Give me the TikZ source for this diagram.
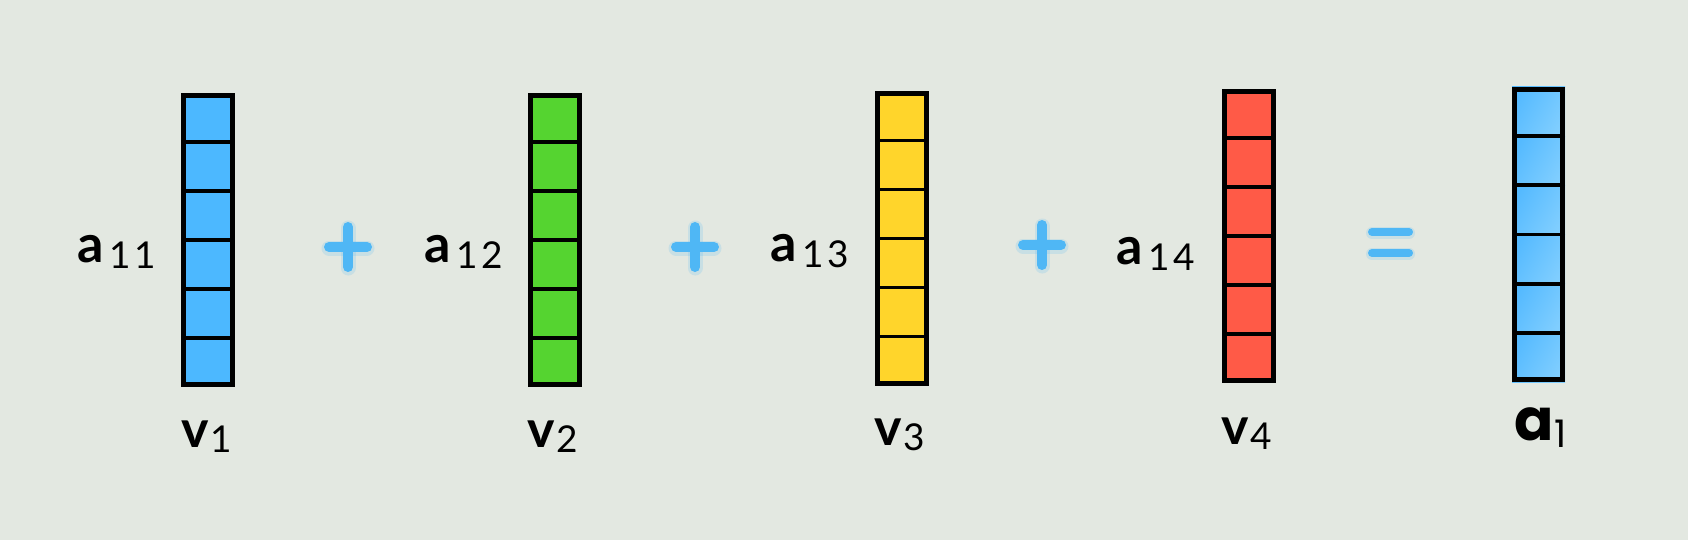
\documentclass[tikz,border=0pt]{standalone}
\usepackage{fontspec}
\setmainfont{Lato}
\newfontfamily\popfont{Poppins}
\usetikzlibrary{calc}
\definecolor{bgc}{HTML}{E3E8E1}
\definecolor{cblue}{HTML}{4CB8FF}
\definecolor{cgreen}{HTML}{55D430}
\definecolor{cyellow}{HTML}{FFD52B}
\definecolor{cred}{HTML}{FF5A47}
\definecolor{gblueA}{HTML}{55BAFF}
\definecolor{gblueB}{HTML}{80CEFF}
\definecolor{opblue}{HTML}{4FB7F5}
\begin{document}
\begin{tikzpicture}[x=1pt,y=-1pt,
  colbox/.style={draw=black, line width=5pt, inner sep=0pt, minimum width=49pt, minimum height=289pt},
  divider/.style={line width=3.8pt, draw=black},
  opsign/.style={line width=10pt, line cap=round, draw=opblue},
  opglow/.style={line width=15pt, line cap=round, draw=opblue, opacity=0.18},
  eqsign/.style={line width=8pt, line cap=round, draw=opblue},
  eqglow/.style={line width=12pt, line cap=round, draw=opblue, opacity=0.18},
  lab/.style={anchor=base west, inner sep=0pt, outer sep=0pt},
]
\fill[bgc] (0,0) rectangle (1688,540);
\useasboundingbox (0,0) rectangle (1688,540);

% columns
\node[colbox, fill=cblue] (v1) at (208,240) {};
\node[colbox, fill=cgreen] (v2) at (555,240) {};
\node[colbox, fill=cyellow] (v3) at (902,238.5) {};
\node[colbox, fill=cred] (v4) at (1249,236) {};
\node[colbox, draw=none, minimum width=48pt, minimum height=290pt] (a1) at (1538.5,234.5) {};
\foreach \k in {0,...,5}{
  \shade[left color=gblueA, right color=gblueB, shading angle=60]
    ($(a1.north west)!\k/6!(a1.south west)$) rectangle ($(a1.north east)!{(\k+1)/6}!(a1.south east)$);
}
\node[colbox, minimum width=48pt, minimum height=290pt] (a1frame) at (a1) {};

\foreach \c in {v1,v2,v3,v4,a1}{
  \foreach \k in {1,...,5}{
    \draw[divider] ($(\c.north west)!\k/6!(\c.south west)$) -- ($(\c.north east)!\k/6!(\c.south east)$);
  }
}

% coefficient labels
\node[lab] (l11) at (77,262) {{\fontsize{52}{52}\selectfont\bfseries a}\kern6pt\raisebox{-6pt}{\fontsize{37}{37}\selectfont 1\kern4pt 1}};
\node[lab] (l12) at (424,262) {{\fontsize{52}{52}\selectfont\bfseries a}\kern6pt\raisebox{-6pt}{\fontsize{37}{37}\selectfont 1\kern4pt 2}};
\node[lab] (l13) at (770,261) {{\fontsize{52}{52}\selectfont\bfseries a}\kern6pt\raisebox{-6pt}{\fontsize{37}{37}\selectfont 1\kern4pt 3}};
\node[lab] (l14) at (1116,264) {{\fontsize{52}{52}\selectfont\bfseries a}\kern6pt\raisebox{-6pt}{\fontsize{37}{37}\selectfont 1\kern4pt 4}};

% vector labels
\node[lab] (n1) at (181,447) {{\fontsize{52}{52}\selectfont\bfseries v}\kern2pt\raisebox{-5pt}{\fontsize{37}{37}\selectfont 1}};
\node[lab] (n2) at (527,447) {{\fontsize{52}{52}\selectfont\bfseries v}\kern2pt\raisebox{-5pt}{\fontsize{37}{37}\selectfont 2}};
\node[lab] (n3) at (874,445) {{\fontsize{52}{52}\selectfont\bfseries v}\kern2pt\raisebox{-5pt}{\fontsize{37}{37}\selectfont 3}};
\node[lab] (n4) at (1221,444) {{\fontsize{52}{52}\selectfont\bfseries v}\kern2pt\raisebox{-5pt}{\fontsize{37}{37}\selectfont 4}};
\node[lab] (na) at (1514,440) {\popfont{\fontsize{58}{58}\selectfont\bfseries a}\kern1pt\raisebox{-7pt}{\fontsize{38}{38}\selectfont 1}};

% operators
\foreach \x/\y in {348/247, 695/247, 1042/245}{
  \draw[opglow] (\x-19,\y+1) -- (\x+19,\y+1);
  \draw[opglow] (\x,\y-19) -- (\x,\y+21);
  \draw[opsign] (\x-19,\y) -- (\x+19,\y);
  \draw[opsign] (\x,\y-20) -- (\x,\y+20);
}
\draw[eqglow] (1372,233) -- (1409,233);
\draw[eqglow] (1372,254) -- (1409,254);
\draw[eqsign] (1372,232) -- (1409,232);
\draw[eqsign] (1372,253) -- (1409,253);
\end{tikzpicture}
\end{document}
